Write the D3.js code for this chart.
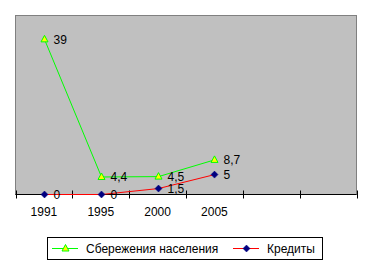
<!DOCTYPE html>
<html><head><meta charset="utf-8">
<script src="https://cdn.jsdelivr.net/npm/d3@7"></script>
<style>body{margin:0;background:#fff}svg{display:block}text{font-family:"Liberation Sans",Arial,sans-serif;font-size:12px;fill:#000}</style>
</head><body>
<script>
const categories = ["1991", "1995", "2000", "2005", "", " "];
const years = ["1991", "1995", "2000", "2005"];
const savings = [39, 4.4, 4.5, 8.7];
const credits = [0, 0, 1.5, 5];
const seriesNames = ["Сбережения населения", "Кредиты"];
const yMax = 45;

const W = 371, H = 268;
const svg = d3.select("body").append("svg").attr("width", W).attr("height", H);
const pL = 15.5, pR = 356.5, pT = 15.5, pB = 194.5;
const x = d3.scaleBand().domain(categories).range([pL, pR]);
const y = d3.scaleLinear().domain([0, yMax]).range([pB, pT]);
const cx = c => Math.round(x(c) + x.bandwidth() / 2) + 0.5;

svg.append("rect").attr("x", pL).attr("y", pT).attr("width", pR - pL).attr("height", pB - pT)
  .attr("fill", "#c0c0c0").attr("stroke", "#808080").attr("stroke-width", 1);

// axis
const ax = svg.append("g").attr("transform", `translate(0,${pB})`)
  .call(d3.axisBottom(x).tickSize(0).tickFormat(d => d.trim()));
ax.select(".domain").remove();
ax.selectAll("text").attr("y", 13).attr("dy", "0.71em").style("font-size", "12px").style("font-family", "Liberation Sans, Arial, sans-serif");
svg.append("line").attr("x1", pL).attr("x2", pR).attr("y1", pB).attr("y2", pB).attr("stroke", "#000");
const tickX = categories.map(c => x(c)).concat([pR]);
svg.selectAll(".tk").data(tickX).enter().append("line")
  .attr("x1", d => Math.round(d) + 0.5).attr("x2", d => Math.round(d) + 0.5)
  .attr("y1", pB - 4).attr("y2", pB + 4).attr("stroke", "#000");

const line = d3.line().x((d, i) => cx(years[i])).y(d => y(d));
svg.append("path").datum(savings).attr("d", line).attr("fill", "none").attr("stroke", "#00ff00").attr("stroke-width", 1);
svg.append("path").datum(credits).attr("d", line).attr("fill", "none").attr("stroke", "#ff0000").attr("stroke-width", 1);

const tri = (px, py) => `M${px},${py - 4}L${px + 3.5},${py + 2.5}L${px - 3.5},${py + 2.5}Z`;
const dia = (px, py) => `M${px},${py - 3.5}L${px + 3.5},${py}L${px},${py + 3.5}L${px - 3.5},${py}Z`;

svg.selectAll(".m1").data(savings).enter().append("path")
  .attr("d", (d, i) => tri(cx(years[i]), y(d))).attr("fill", "#ffff00").attr("stroke", "#00ff00");
svg.selectAll(".m2").data(credits).enter().append("path")
  .attr("d", (d, i) => dia(cx(years[i]), y(d))).attr("fill", "#000080").attr("stroke", "#000080").attr("stroke-width", 0.5);

const fmt = v => String(v).replace(".", ",");
svg.selectAll(".l1").data(savings).enter().append("text")
  .attr("x", (d, i) => cx(years[i]) + 9).attr("y", d => y(d)).attr("dy", "0.35em").text(fmt);
svg.selectAll(".l2").data(credits).enter().append("text")
  .attr("x", (d, i) => cx(years[i]) + 9).attr("y", d => y(d)).attr("dy", "0.35em").text(fmt);

// legend
const lg = svg.append("g");
lg.append("rect").attr("x", 47.5).attr("y", 237.5).attr("width", 275).attr("height", 22).attr("fill", "#fff").attr("stroke", "#000");
const ly = 248.5;
lg.append("line").attr("x1", 52).attr("x2", 78).attr("y1", ly).attr("y2", ly).attr("stroke", "#00ff00");
lg.append("path").attr("d", tri(65.5, ly)).attr("fill", "#ffff00").attr("stroke", "#00ff00");
lg.append("text").attr("x", 86).attr("y", ly).attr("dy", "0.35em").text(seriesNames[0]);
lg.append("line").attr("x1", 233).attr("x2", 259).attr("y1", ly).attr("y2", ly).attr("stroke", "#ff0000");
lg.append("path").attr("d", dia(246.5, ly)).attr("fill", "#000080").attr("stroke", "#000080").attr("stroke-width", 0.5);
lg.append("text").attr("x", 267).attr("y", ly).attr("dy", "0.35em").text(seriesNames[1]);
</script>
</body></html>
